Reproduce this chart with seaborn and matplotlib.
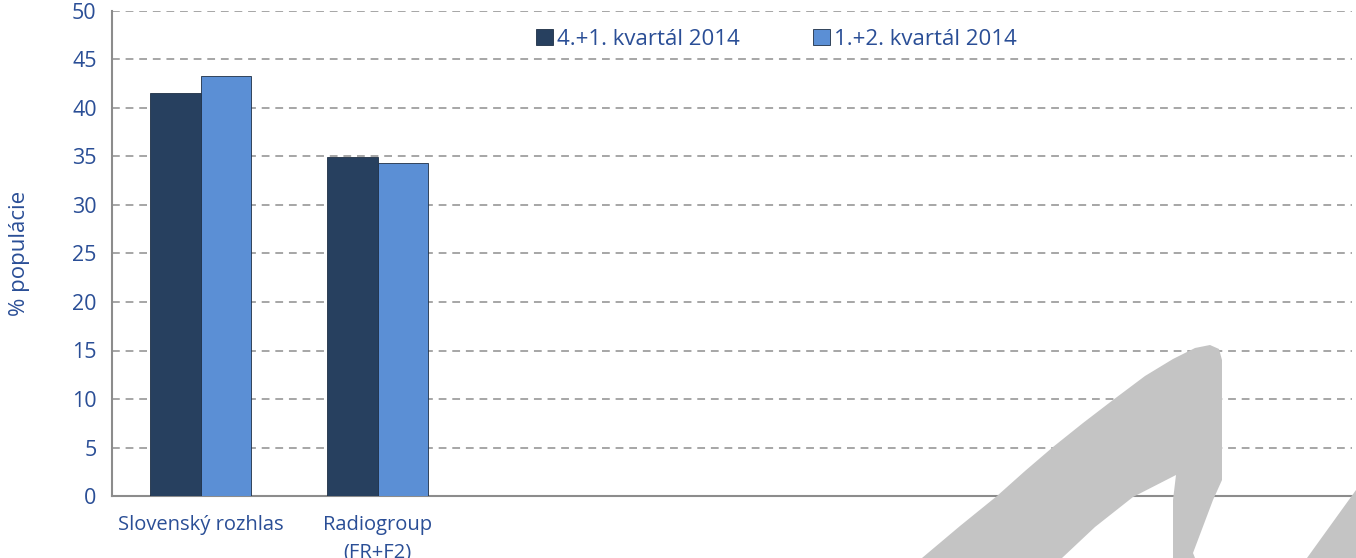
import numpy as np
import pandas as pd
import matplotlib.pyplot as plt
from matplotlib.patches import Polygon
import seaborn as sns

sns.set_style("white")
plt.rcParams['font.family'] = ['Open Sans', 'DejaVu Sans']

# Data
categories = ["Slovenský rozhlas", "Radiogroup\n(FR+F2)", "c3", "c4", "c5", "c6", "c7"]
tick_labels = ["Slovenský rozhlas", "Radiogroup\n(FR+F2)", "", "", "", "", ""]
series = ["4.+1. kvartál 2014", "1.+2. kvartál 2014"]
q41 = [41.5, 34.9, np.nan, np.nan, np.nan, np.nan, np.nan]
q12 = [43.3, 34.3, np.nan, np.nan, np.nan, np.nan, np.nan]

df = pd.DataFrame({
    "kategoria": categories * 2,
    "obdobie": [series[0]] * len(categories) + [series[1]] * len(categories),
    "hodnota": q41 + q12,
})

text_col = "#2A4E96"
W, H = 1356, 558
fig = plt.figure(figsize=(W / 100, H / 100), dpi=100)

# watermark swoosh (background decoration)
def px(points):
    return [(x / W, 1 - y / H) for x, y in points]

swoosh = [(922, 558), (960, 526), (997, 496), (1025, 471), (1053, 447),
          (1083, 423), (1113, 400), (1145, 376), (1173, 359), (1195, 348),
          (1210, 345), (1219, 349), (1222, 360), (1222, 480),
          (1213, 500), (1193, 553), (1195, 558), (1173, 558), (1173, 500),
          (1176, 475), (1133, 497), (1095, 527), (1062, 558)]
fig.patches.append(Polygon(px(swoosh), closed=True, transform=fig.transFigure,
                           facecolor="#C4C4C4", edgecolor="none", zorder=0))
fig.patches.append(Polygon(px([(1307, 558), (1356, 490), (1356, 558)]), closed=True,
                           transform=fig.transFigure, facecolor="#C4C4C4",
                           edgecolor="none", zorder=0))

ax = fig.add_axes([112 / W, 1 - 496 / H, (1352 - 112) / W, (496 - 11) / H])
ax.patch.set_alpha(0)

sns.barplot(data=df, x="kategoria", y="hodnota", hue="obdobie", order=categories,
            hue_order=series, palette=["#27405F", "#5B8FD5"], saturation=1,
            width=0.57, edgecolor="#1E2F45", linewidth=0.6, ax=ax, zorder=3)

ax.set_ylim(0, 50)
ax.set_yticks(range(0, 51, 5))
ax.set_xlim(-0.5, len(categories) - 0.5)
ax.set_xticks(range(len(categories)))
ax.set_xticklabels(tick_labels, linespacing=1.5)
ax.set_xticks(np.arange(-0.5, len(categories), 1), minor=True)
ax.tick_params(axis="x", which="major", length=0, pad=14, labelsize=14.5, labelcolor=text_col)
ax.tick_params(axis="x", which="minor", length=7, color="#8C8C8C", width=1.2)
ax.tick_params(axis="y", length=7, color="#8C8C8C", width=1.2, labelsize=15.5,
               labelcolor=text_col, pad=4)

ax.grid(axis="y", linestyle=(0, (4, 3)), color="#A6A6A6", linewidth=1.4, zorder=1)
ax.set_axisbelow(True)
for s in ["top", "right"]:
    ax.spines[s].set_visible(False)
for s in ["left", "bottom"]:
    ax.spines[s].set_color("#8C8C8C")
    ax.spines[s].set_linewidth(1.5)

ax.set_xlabel("")
ax.set_ylabel("% populácie", fontsize=16, color=text_col, labelpad=30)

leg = ax.legend(loc="upper center", bbox_to_anchor=(0.536, 1.004), ncol=2, frameon=False,
                fontsize=16, handlelength=0.75, handleheight=0.75, handletextpad=0.2,
                columnspacing=3.3)
for t in leg.get_texts():
    t.set_color(text_col)

plt.savefig("out.png", dpi=100)
plt.close()
